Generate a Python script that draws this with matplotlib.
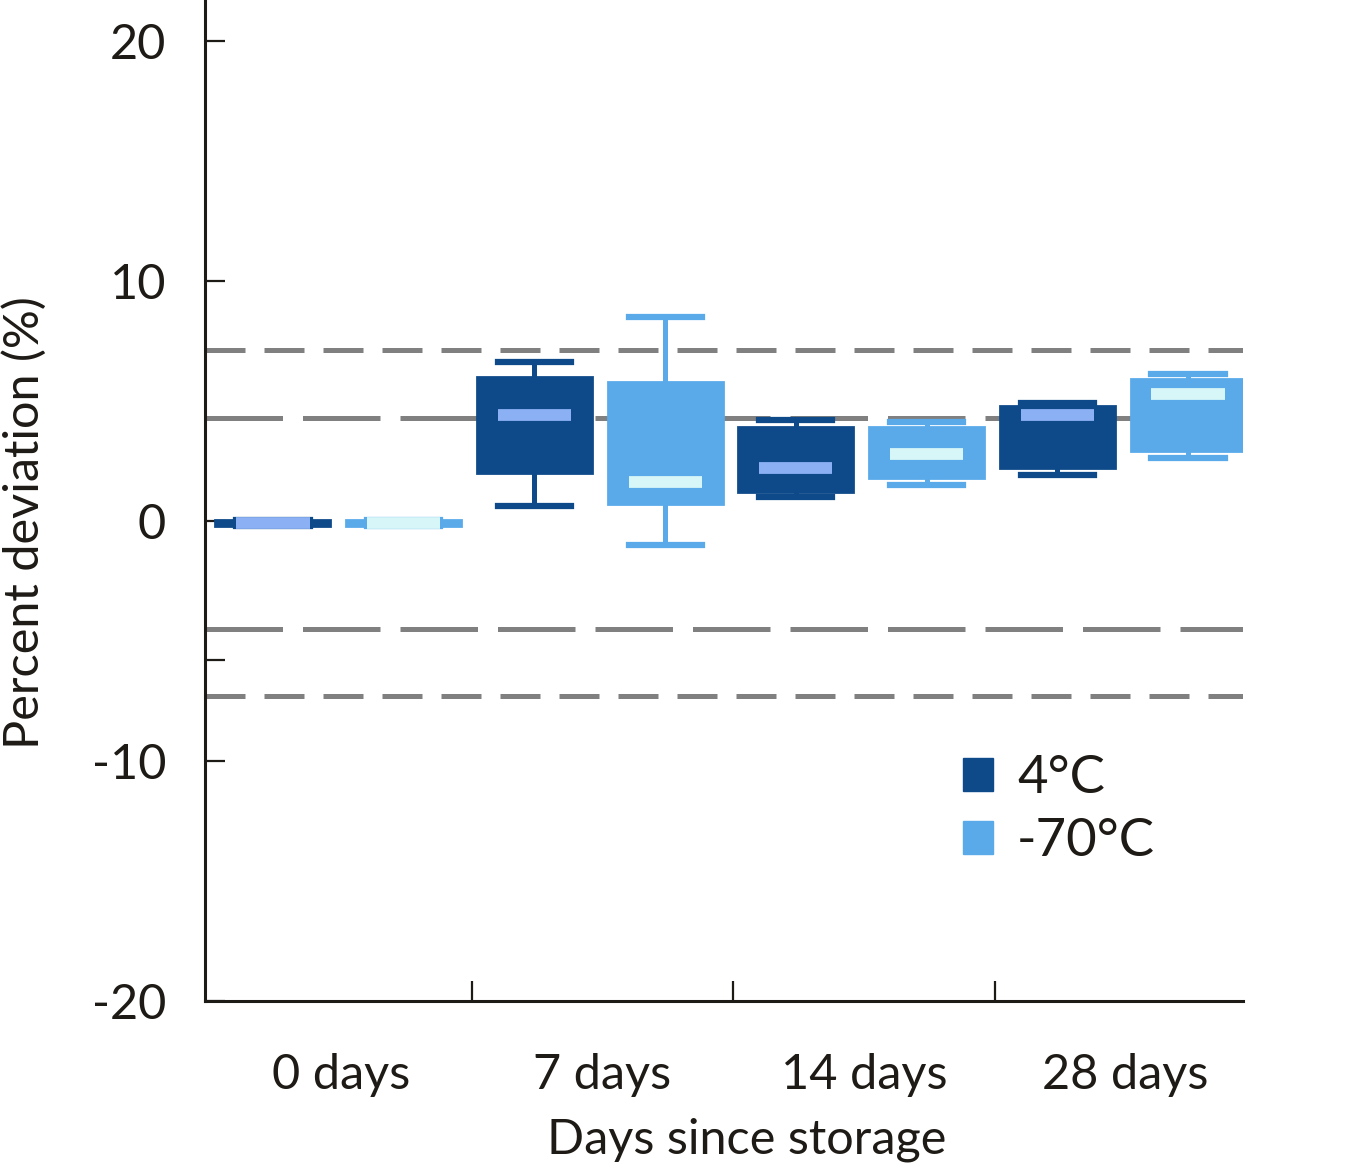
import matplotlib.pyplot as plt
from matplotlib.patches import Patch

plt.rcParams['font.family'] = ['Lato', 'DejaVu Sans']

# Data
categories = ["0 days", "7 days", "14 days", "28 days"]
groups = ["4°C", "-70°C"]

# per group: one value per category
whislo = {"4°C": [-0.2, 0.6, 1.0, 1.9], "-70°C": [-0.2, -1.0, 1.5, 2.6]}
q1 = {"4°C": [-0.2, 2.0, 1.2, 2.2], "-70°C": [-0.2, 0.7, 1.8, 2.9]}
med = {"4°C": [-0.1, 4.4, 2.2, 4.4], "-70°C": [-0.1, 1.6, 2.8, 5.3]}
q3 = {"4°C": [0.05, 6.0, 3.9, 4.8], "-70°C": [0.05, 5.8, 3.9, 5.9]}
whishi = {"4°C": [0.05, 6.6, 4.2, 4.9], "-70°C": [0.05, 8.5, 4.1, 6.1]}

limits_outer = [7.1, -7.3]
limits_inner = [4.3, -4.5]

box_color = {"4°C": "#0e4a8a", "-70°C": "#5aaaea"}
med_color = {"4°C": "#8cb0f4", "-70°C": "#d6f6f8"}
offset = {"4°C": 0.24, "-70°C": 0.74}
ink = "#1e1a16"

fig = plt.figure(figsize=(13.54, 11.7), dpi=100)
ax = fig.add_axes([0.1514, 0.1447, 0.7666, 0.8553])

# reference lines
for y in limits_outer:
    ax.axhline(y, color="#808080", lw=3.6, dashes=(8, 3.8), zorder=1)
for y in limits_inner:
    ax.axhline(y, color="#808080", lw=3.6, dashes=(15.5, 4), zorder=1)

for g in groups:
    stats = []
    for i in range(len(categories)):
        stats.append({"whislo": whislo[g][i], "q1": q1[g][i], "med": med[g][i],
                      "q3": q3[g][i], "whishi": whishi[g][i], "fliers": []})
    pos = [i + offset[g] for i in range(len(categories))]
    c = box_color[g]
    ax.bxp(stats, positions=pos, widths=0.44, capwidths=0.28, patch_artist=True,
           showfliers=False, manage_ticks=False,
           boxprops=dict(facecolor=c, edgecolor=c, linewidth=2),
           whiskerprops=dict(color=c, linewidth=3.6),
           capprops=dict(color=c, linewidth=4.5),
           medianprops=dict(linewidth=0))
    ax.hlines(med[g], [p - 0.14 for p in pos], [p + 0.14 for p in pos],
              color=med_color[g], linewidth=8.5, zorder=4)

ax.set_xlim(-0.02, 3.95)
ax.set_ylim(-20, 21.7)

ax.spines["top"].set_visible(False)
ax.spines["right"].set_visible(False)
for s in ["left", "bottom"]:
    ax.spines[s].set_linewidth(2.2)
    ax.spines[s].set_color(ink)

ax.set_yticks([-20, -10, 0, 10, 20])
ax.set_yticklabels(["-20", "-10", "0", "10", "20"])
ax.set_yticks([-5.8], minor=True)
ax.tick_params(axis="y", which="both", direction="in", length=14.5, width=1.6,
               color=ink, labelsize=35, pad=28, labelcolor=ink)

ax.set_xticks([1, 2, 3])
ax.set_xticklabels([])
ax.tick_params(axis="x", which="major", direction="in", length=14.5, width=1.6,
               color=ink)
ax.set_xticks([i + 0.5 for i in range(len(categories))], minor=True)
ax.set_xticklabels(categories, minor=True)
ax.tick_params(axis="x", which="minor", length=0, labelsize=35, pad=38,
               labelcolor=ink)

ax.set_ylabel("Percent deviation (%)", fontsize=35, color=ink)
ax.yaxis.set_label_coords(-0.152, 0.478)
ax.set_xlabel("Days since storage", fontsize=35, color=ink)
ax.xaxis.set_label_coords(0.522, -0.117)

handles = [Patch(facecolor=box_color[g], edgecolor=box_color[g]) for g in groups]
ax.legend(handles, groups, loc="upper left", bbox_to_anchor=(0.730, 0.2455),
          frameon=False, fontsize=38, handlelength=0.58, handleheight=0.58,
          handletextpad=0.45, labelspacing=0.3, borderpad=0, borderaxespad=0,
          labelcolor=ink)

fig.savefig("out.png", dpi=100)
